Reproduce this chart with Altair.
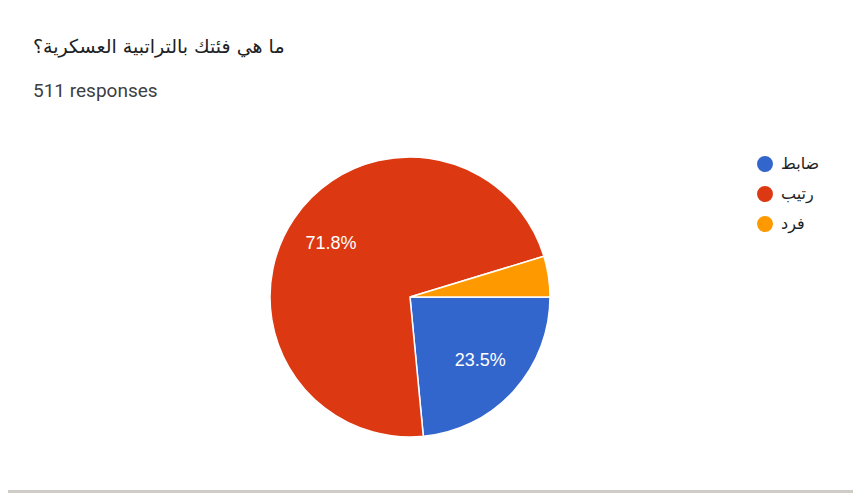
import math
import altair as alt
import pandas as pd

# ---- data ----
title_text = ["ما هي فئتك بالتراتبية العسكرية؟"]
subtitle_text = ["511 responses"]
categories = ["ضابط", "رتيب", "فرد"]
counts = [120, 367, 24]
colors = ["#3366cc", "#dc3912", "#ff9900"]

W, H = 845, 485
CX, CY, R = 402, 289, 140

df = pd.DataFrame({"cat": categories, "n": counts, "idx": list(range(len(categories)))})

base = alt.Chart(df).transform_joinaggregate(
    total="sum(n)"
).transform_calculate(
    pct="datum.n / datum.total",
    label="datum.n / datum.total >= 0.05 ? format(datum.n / datum.total, '.1%') : ''"
)

theta = alt.Theta("n:Q", stack=True,
                  scale=alt.Scale(range=[math.pi / 2, math.pi / 2 + 2 * math.pi]))

pie = base.mark_arc(radius=R, stroke="white", strokeWidth=1.5).encode(
    theta=theta,
    order=alt.Order("idx:Q"),
    x=alt.value(CX),
    y=alt.value(CY),
    color=alt.Color("cat:N",
                    scale=alt.Scale(domain=categories, range=colors),
                    sort=categories,
                    legend=alt.Legend(
                        title=None, orient="none", legendX=749, legendY=148,
                        symbolType="circle", symbolSize=254, symbolStrokeWidth=0,
                        symbolOpacity=1, labelFont="DejaVu Sans", labelFontSize=16,
                        labelColor="#222222", labelOffset=8, rowPadding=14,
                        padding=0)),
)

labels = base.mark_text(radius=95, fontSize=18, font="Liberation Sans",
                        color="white").encode(
    theta=theta,
    order=alt.Order("idx:Q"),
    x=alt.value(CX),
    y=alt.value(CY),
    text="label:N",
)

title = alt.Chart(pd.DataFrame({"t": title_text})).mark_text(
    align="left", baseline="alphabetic", fontSize=19, font="DejaVu Sans",
    color="#202124"
).encode(x=alt.value(25), y=alt.value(45), text="t:N")

subtitle = alt.Chart(pd.DataFrame({"t": subtitle_text})).mark_text(
    align="left", baseline="alphabetic", fontSize=19, font="Roboto",
    color="#3c4043"
).encode(x=alt.value(25), y=alt.value(89), text="t:N")

strip = alt.Chart(pd.DataFrame({"t": [0]})).mark_rect(color="#cfcbc6").encode(
    x=alt.value(0), x2=alt.value(W), y=alt.value(482), y2=alt.value(H)
)

chart = alt.layer(pie, labels, title, subtitle, strip).properties(
    width=W, height=H,
    autosize=alt.AutoSizeParams(type="none"),
    padding={"left": 0, "right": 0, "top": 0, "bottom": 0},
    background="white",
).configure_view(strokeWidth=0)

chart.save("out.html", embed_options={"renderer": "svg", "actions": False})
